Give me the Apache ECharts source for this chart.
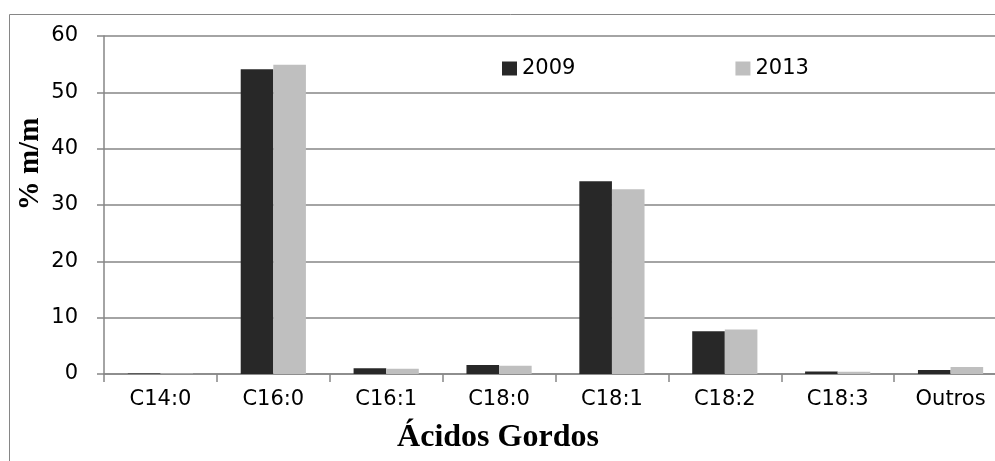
<!DOCTYPE html>
<html><head><meta charset="utf-8">
<script src="https://cdn.jsdelivr.net/npm/echarts@6/dist/echarts.min.js"></script>
<style>html,body{margin:0;padding:0;background:#fff;overflow:hidden}#c{width:1010px;height:461px}</style>
</head><body><div id="c"></div>
<script>
const categories = ['C14:0','C16:0','C16:1','C18:0','C18:1','C18:2','C18:3','Outros'];
const values2009 = [0.1, 54.1, 1.0, 1.6, 34.2, 7.6, 0.45, 0.7];
const values2013 = [0.1, 54.9, 0.95, 1.45, 32.8, 7.9, 0.4, 1.25];
const seriesNames = ['2009', '2013'];
const yTicks = [0, 10, 20, 30, 40, 50, 60];
const xTitle = 'Ácidos Gordos';
const yTitle = '% m/m';

const chart = echarts.init(document.getElementById('c'), null, {renderer:'canvas'});
const labelFont = '"DejaVu Sans", sans-serif';
const titleFont = '"Liberation Serif", "Times New Roman", serif';
chart.setOption({
  animation: false,
  backgroundColor: '#fff',
  grid: {left: 104, top: 36, width: 903, height: 338, containLabel: false},
  legend: {
    data: seriesNames,
    left: 497, top: 53,
    itemWidth: 15, itemHeight: 14, itemGap: 160,
    icon: 'rect',
    textStyle: {fontFamily: labelFont, fontSize: 21, color: '#000'}
  },
  xAxis: {
    type: 'category', data: categories,
    axisLine: {lineStyle: {color: '#868686', width: 1.5}},
    axisTick: {show: true, length: 8, lineStyle: {color: '#868686', width: 1.5}},
    axisLabel: {fontFamily: labelFont, fontSize: 21, color: '#000', margin: 15}
  },
  yAxis: {
    type: 'value', min: yTicks[0], max: yTicks[yTicks.length-1], interval: 10,
    axisLine: {show: true, lineStyle: {color: '#868686', width: 1.5}},
    axisTick: {show: true, length: 7, lineStyle: {color: '#868686', width: 1.5}},
    splitLine: {lineStyle: {color: '#868686', width: 1.5}},
    axisLabel: {fontFamily: labelFont, fontSize: 21, color: '#000', margin: 26}
  },
  series: [
    {name: seriesNames[0], type: 'bar', data: values2009, barWidth: 32.6, barGap: '0%', itemStyle: {color: '#282828'}},
    {name: seriesNames[1], type: 'bar', data: values2013, barWidth: 32.6, barGap: '0%', itemStyle: {color: '#bfbfbf'}}
  ],
  graphic: [
    {type: 'rect', shape: {x: 9.5, y: 14.5, width: 1100, height: 500},
     style: {fill: null, stroke: '#868686', lineWidth: 1}, silent: true, z: -1},
    {type: 'text', x: 498, y: 438,
     style: {text: xTitle, font: 'bold 32px ' + titleFont, fill: '#000', textAlign: 'center', textVerticalAlign: 'middle'}},
    {type: 'text', x: 31, y: 164, rotation: Math.PI / 2,
     style: {text: yTitle, font: 'bold 29px ' + titleFont, fill: '#000', textAlign: 'center', textVerticalAlign: 'middle'}}
  ]
});
</script></body></html>
